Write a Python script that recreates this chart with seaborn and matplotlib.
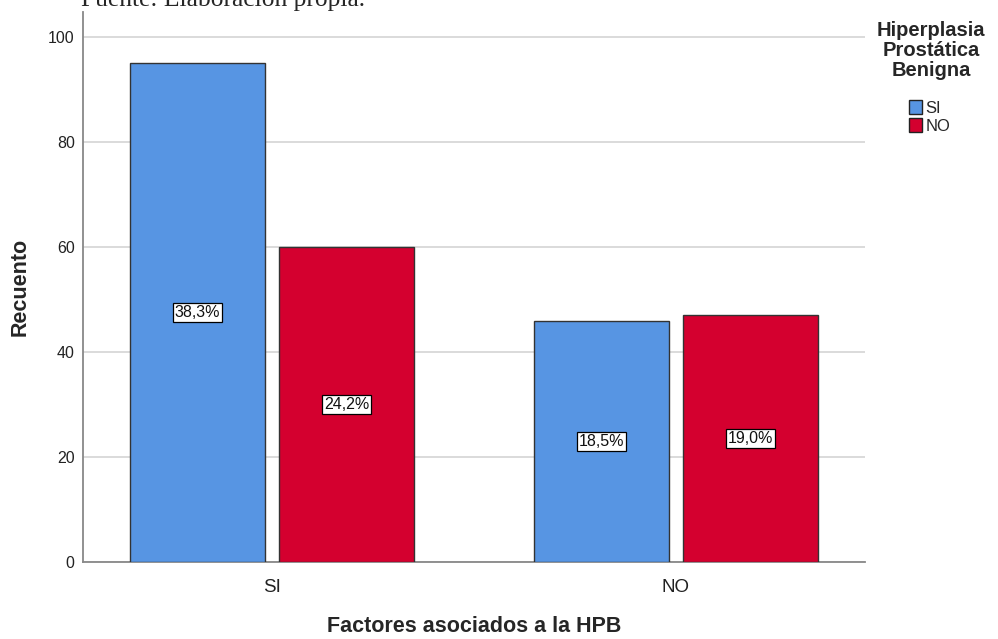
import numpy as np
import pandas as pd
import matplotlib
matplotlib.use("Agg")
import matplotlib.pyplot as plt
from matplotlib import font_manager
from matplotlib.patches import Patch
import seaborn as sns

# data
factores = ["SI", "NO", "SI", "NO"]
hpb = ["SI", "SI", "NO", "NO"]
recuento = [95, 46, 60, 47]
porcentajes = ["38,3%", "18,5%", "24,2%", "19,0%"]

df = pd.DataFrame({"Factores": factores, "HPB": hpb, "Recuento": recuento,
                   "Pct": porcentajes})

sns.set_style("white")
plt.rcParams["font.family"] = ["Liberation Sans", "DejaVu Sans"]

# SPSS text looks condensed; use the narrow face if it is there
try:
    font_manager.findfont("Liberation Sans Narrow", fallback_to_default=False)
    narrow = ["Liberation Sans Narrow", "DejaVu Sans"]
    has_narrow = True
except Exception:
    narrow = ["Liberation Sans", "DejaVu Sans"]
    has_narrow = False

W, H = 998, 639
fig = plt.figure(figsize=(W / 100, H / 100), dpi=100)
ax = fig.add_axes([83 / W, 1 - 562 / H, (865 - 83) / W, (562 - 12) / H])

colores = {"SI": "#5795E3", "NO": "#D4002F"}
sns.barplot(data=df, x="Factores", y="Recuento", hue="HPB",
            order=["SI", "NO"], hue_order=["SI", "NO"], palette=colores,
            width=0.738, gap=0.094, edgecolor="#333333", linewidth=1.0,
            saturation=1, errorbar=None, ax=ax, zorder=3, legend=False)

# percentage labels in the middle of each bar
pct_size = 14 if has_narrow else 11.5
for cont, h in zip(ax.containers, ["SI", "NO"]):
    sub = df[df["HPB"] == h].set_index("Factores").loc[["SI", "NO"]]
    for bar, pct in zip(cont, sub["Pct"]):
        ax.text(bar.get_x() + bar.get_width() / 2, bar.get_height() / 2, pct,
                ha="center", va="center", fontsize=pct_size, color="#111111",
                family=narrow, zorder=5,
                bbox=dict(boxstyle="square,pad=0.13", fc="white",
                          ec="black", lw=0.9))

ax.set_ylim(0, 104.8)
ax.set_xlim(-0.468, 1.468)
ax.set_yticks([0, 20, 40, 60, 80, 100])
ax.yaxis.grid(True, color="#d4d4d4", linewidth=1.2, zorder=0)
ax.set_axisbelow(True)
for s in ["top", "right"]:
    ax.spines[s].set_visible(False)
for s in ["left", "bottom"]:
    ax.spines[s].set_color("#888888")
    ax.spines[s].set_linewidth(1.3)
ax.tick_params(axis="y", length=0, pad=6, labelsize=11.5, labelcolor="#222222")
ax.tick_params(axis="x", length=0, pad=12, labelsize=15 if has_narrow else 13.5,
               labelcolor="#222222")
for t in ax.get_xticklabels():
    t.set_family(narrow)

ax.set_ylabel("Recuento", fontsize=15.5, fontweight="bold", va="center")
ax.yaxis.set_label_coords((20 - 83) / 782, 0.5)
ax.set_xlabel("Factores asociados a la HPB", fontsize=15.5, fontweight="bold",
              va="center")
ax.xaxis.set_label_coords(0.5, -(626 - 562) / 550)

# legend: centred title and small square patches
fig.text(931 / W, 1 - 21 / H, "Hiperplasia\nProstática\nBenigna",
         ha="center", va="top", fontsize=14.5, fontweight="bold",
         linespacing=1.08, multialignment="center")
handles = [Patch(facecolor=colores[k], edgecolor="#222222", lw=1.0, label=k)
           for k in ["SI", "NO"]]
fig.legend(handles=handles, loc="upper left",
           bbox_to_anchor=(909 / W, 1 - 100 / H), frameon=False,
           prop={"family": narrow, "size": 13.5 if has_narrow else 12},
           handlelength=0.8, handleheight=0.9, handletextpad=0.2,
           labelspacing=0.15, borderaxespad=0, borderpad=0)

# caption cut off at the top of the image
fig.text(81 / W, 1 - 6 / H, "Fuente: Elaboración propia.",
         fontsize=18.4, family="Liberation Serif", ha="left", va="baseline")

fig.savefig("out.png", dpi=100)
